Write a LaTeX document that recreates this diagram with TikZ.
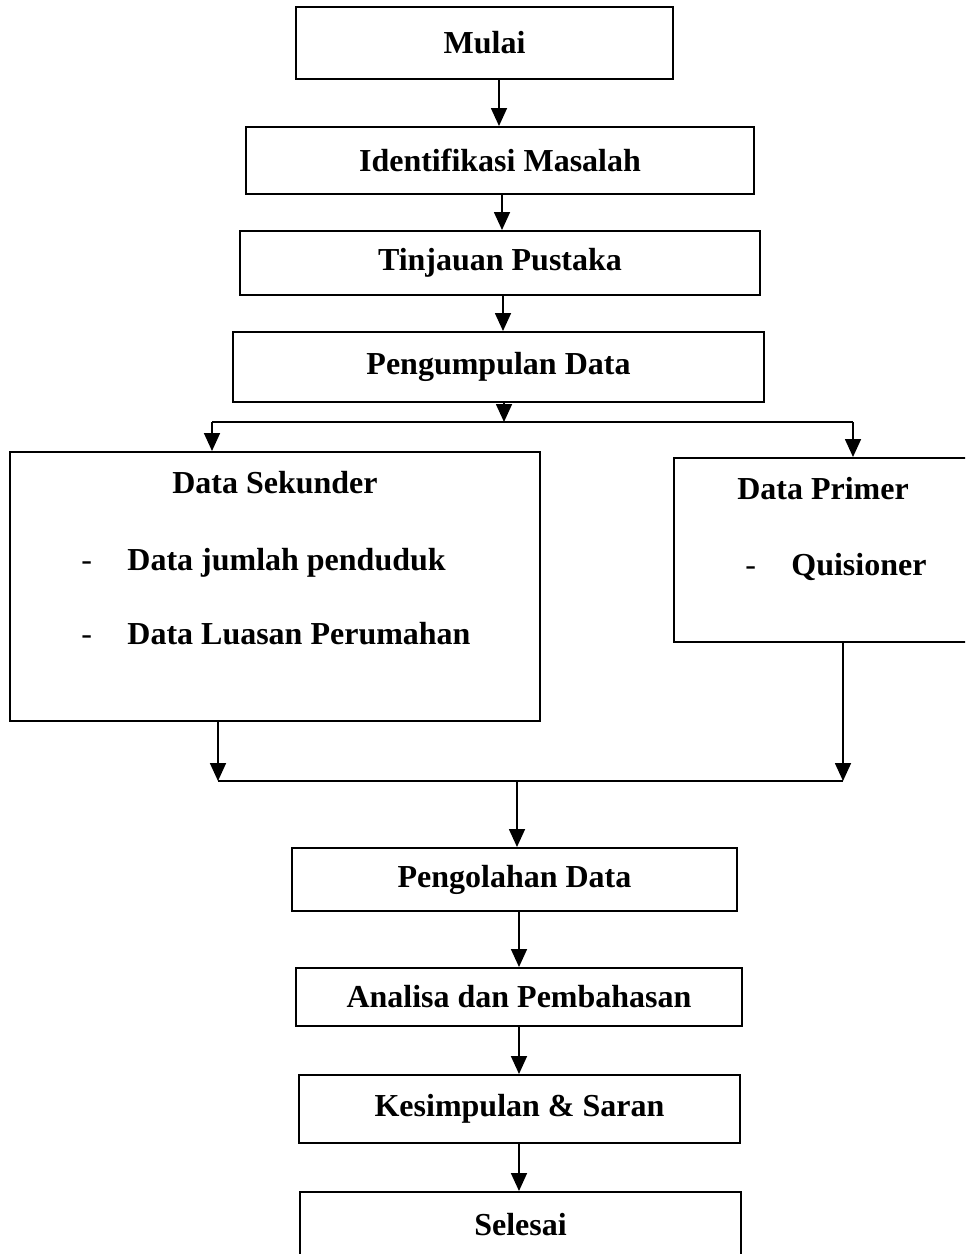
\documentclass[tikz,border=0pt]{standalone}
\usepackage{fontspec}
\setmainfont{Liberation Serif}
\usetikzlibrary{arrows.meta}
\begin{document}
\begin{tikzpicture}[x=0.5pt,y=-0.5pt,
  font=\fontsize{16}{19}\selectfont\bfseries,
  box/.style={draw, line width=1pt, inner sep=0pt, align=center},
  txt/.style={inner sep=0pt},
  dashtxt/.style={inner sep=0pt, font=\fontsize{16}{19}\selectfont\mdseries},
  conn/.style={line width=0.85pt, -{Triangle[width=8pt,length=9pt]}},
  plain/.style={line width=0.85pt}]
\useasboundingbox (0,0) rectangle (965,1254);
\fill[white] (0,0) rectangle (965,1254);
\clip (0,0) rectangle (965,1254);

\node[box, minimum width=188.5pt, minimum height=36pt] (mulai) at (484.5,43) {Mulai};
\node[box, minimum width=254pt, minimum height=33.5pt] (ident) at (500,160.5) {Identifikasi Masalah};
\node[box, minimum width=260pt, minimum height=32pt] (tinj) at (500,263) {Tinjauan Pustaka};
\node[box, minimum width=265.5pt, minimum height=35pt] (peng) at (498.5,367) {Pengumpulan Data};

\node[box, minimum width=265pt, minimum height=134.5pt] (ds) at (275,586.5) {};
\node[txt, anchor=base] (dsT) at (275,493) {Data Sekunder};
\node[dashtxt, anchor=base west] (dsd1) at (81,570) {-};
\node[txt, anchor=base west] (ds1) at (127,570) {Data jumlah penduduk};
\node[dashtxt, anchor=base west] (dsd2) at (81,644) {-};
\node[txt, anchor=base west] (ds2) at (127,644) {Data Luasan Perumahan};

\node[box, minimum width=149pt, minimum height=92pt] (dp) at (823,550) {};
\node[txt, anchor=base] (dpT) at (823,499) {Data Primer};
\node[dashtxt, anchor=base west] (dpd1) at (745,575) {-};
\node[txt, anchor=base west] (dp1) at (791,575) {Quisioner};

\node[box, minimum width=222.5pt, minimum height=31.5pt] (olah) at (514.5,879.5) {Pengolahan Data};
\node[box, minimum width=223pt, minimum height=29pt] (anal) at (519,997) {Analisa dan Pembahasan};
\node[box, minimum width=220.5pt, minimum height=34pt] (kes) at (519.5,1109) {Kesimpulan \& Saran};
\node[box, minimum width=220.5pt, minimum height=33pt] (sel) at (520.5,1225) {Selesai};

% branch and merge points
\coordinate (bM) at (504,422);
\coordinate (bL) at (212,422);
\coordinate (bR) at (853,422);
\coordinate (mL) at (218,781);
\coordinate (mR) at (843,781);
\coordinate (mM) at (517,781);

\draw[conn] (mulai.south -| 499,0) -- (ident.north -| 499,0);
\draw[conn] (ident.south -| 502,0) -- (tinj.north -| 502,0);
\draw[conn] (tinj.south -| 503,0) -- (peng.north -| 503,0);
\draw[conn] (peng.south -| bM) -- (bM);
\draw[plain] (bL) -- (bR);
\draw[conn] (bL) -- (bL |- ds.north);
\draw[conn] (bR) -- (bR |- dp.north);

\draw[conn] (ds.south -| mL) -- (mL);
\draw[conn] (dp.south -| mR) -- (mR);
\draw[plain] (mL) -- (mR);
\draw[conn] (mM) -- (mM |- olah.north);

\draw[conn] (olah.south -| 519,0) -- (anal.north -| 519,0);
\draw[conn] (anal.south -| 519,0) -- (kes.north -| 519,0);
\draw[conn] (kes.south -| 519,0) -- (sel.north -| 519,0);
\end{tikzpicture}
\end{document}
